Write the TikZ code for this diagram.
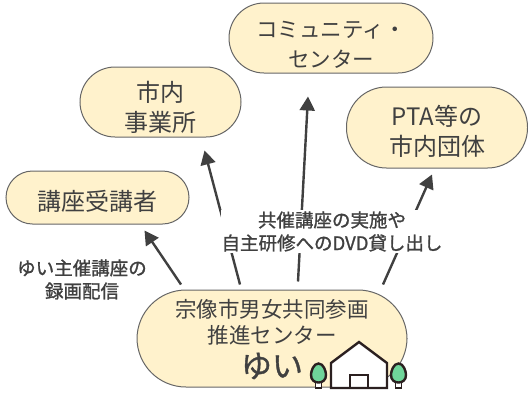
\documentclass[tikz,border=0pt]{standalone}
\usepackage{fontspec}
\setmainfont{Noto Sans CJK JP}
\newfontfamily\medfont[FakeBold=1.2]{Noto Sans CJK JP}
\usetikzlibrary{arrows.meta}
\definecolor{boxfill}{HTML}{FFF2CC}
\definecolor{ink}{HTML}{404040}
\definecolor{leaf}{HTML}{6FD59A}
\definecolor{outline}{HTML}{2B2020}
\newcommand{\lift}[1]{\rule{0pt}{#1pt}}
\tikzset{
	place/.style={draw=ink!80,line width=1,fill=boxfill,rounded corners=#1,align=center,text=ink,inner sep=0,font=\fontsize{24}{30}\selectfont},
	pointer/.style={draw=ink,line width=2.4,-{Triangle[length=14,width=15]}},
	remark/.style={fill=white,align=center,text=ink,inner sep=1,font=\fontsize{18.5}{23}\medfont},
	edge/.style={draw=outline,line width=2.4}
}
\begin{document}
\begin{tikzpicture}[x=1pt,y=-1pt]
	\useasboundingbox (0,0) rectangle (528,392);
	\node[place=26.5,minimum width=183,minimum height=53] (koza) at (97.5,197.5) {\lift{27}講座受講者};
	\node[place=35,minimum width=161,minimum height=70] (jigyo) at (160.5,102) {\lift{30}市内\\事業所};
	\node[place=35,minimum width=204,minimum height=70,font=\fontsize{21.5}{30}\selectfont] (comm) at (331,38) {\lift{30}コミュニティ・\\センター};
	\node[place=40,minimum width=181,minimum height=81] (pta) at (437,127.5) {\lift{28}PTA等の\\市内団体};
	\node[place=49,minimum width=270,minimum height=97] (yui) at (272,338.5) {};
	\node[text=ink,align=center,font=\fontsize{21.5}{26}\selectfont] (yuiname) at (272,322.5) {宗像市男女共同参画\\推進センター};
	\node[text=ink,font=\fontsize{31}{31}\medfont] (yuishort) at (272,366) {ゆい};
	% arrows
	\draw[pointer] ([shift={(-91,-5)}]yui.north) -- ([shift={(47,6)}]koza.south);
	\draw[pointer] ([shift={(-32,-5)}]yui.north) -- ([shift={(44,13)}]jigyo.south);
	\draw[pointer] ([shift={(26,-8)}]yui.north) -- ([shift={(-23,23)}]comm.south);
	\draw[pointer] ([shift={(111,-5)}]yui.north) -- ([shift={(-5,6)}]pta.south);
	% labels
	\node[remark] (share) at (332,231.5) {共催講座の実施や\\自主研修へのDVD貸し出し};
	\node[remark,fill=none] (record) at (82,279.5) {ゆい主催講座の\\録画配信};
	% house
	\coordinate (roofL) at (331,363);
	\coordinate (roofT) at (359,342);
	\coordinate (roofR) at (387,363);
	\filldraw[edge,fill=white] (331,388) -- (roofL) -- (roofT) -- (roofR) -- (387,388) -- cycle;
	\draw[edge] (350,388) -- (350,375) -- (368,375) -- (368,388);
	\foreach \treeX in {318.5,398.5}{
		\filldraw[edge,line width=1.8,fill=white] (\treeX-3,381) rectangle (\treeX+3,388);
		\filldraw[edge,fill=leaf] (\treeX,363.5) .. controls (\treeX+5,363.5) and (\treeX+7.5,371) .. (\treeX+7.5,375) .. controls (\treeX+7.5,380) and (\treeX+4,382.5) .. (\treeX,382.5) .. controls (\treeX-4,382.5) and (\treeX-7.5,380) .. (\treeX-7.5,375) .. controls (\treeX-7.5,371) and (\treeX-5,363.5) .. (\treeX,363.5) -- cycle;
	}
\end{tikzpicture}
\end{document}
